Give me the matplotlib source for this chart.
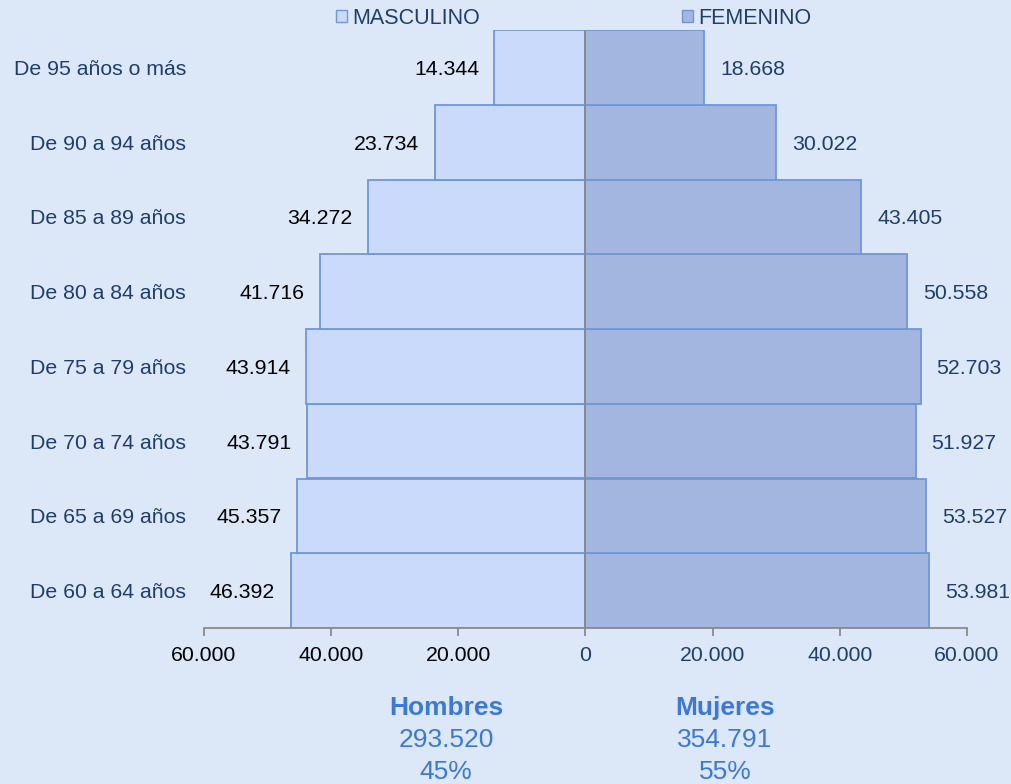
import matplotlib
matplotlib.use("Agg")
import matplotlib.pyplot as plt
from matplotlib.ticker import FuncFormatter, FixedLocator
from matplotlib.patches import Patch

plt.rcParams['font.family'] = ['Liberation Sans', 'DejaVu Sans']

categories = ["De 60 a 64 años", "De 65 a 69 años", "De 70 a 74 años", "De 75 a 79 años",
              "De 80 a 84 años", "De 85 a 89 años", "De 90 a 94 años", "De 95 años o más"]
masculino = [46392, 45357, 43791, 43914, 41716, 34272, 23734, 14344]
femenino = [53981, 53527, 51927, 52703, 50558, 43405, 30022, 18668]
ticks = [-60000, -40000, -20000, 0, 20000, 40000, 60000]
totals = {"Hombres": ("293.520", "45%"), "Mujeres": ("354.791", "55%")}

bg = "#DCE8F8"
male_c = "#C9DAFA"
fem_c = "#A3B6E0"
edge_c = "#7096DA"
dark_blue = "#1F3F6A"
accent = "#3C78D8"

def fmt(v):
    return f"{int(round(abs(v))):,}".replace(",", ".")

fig = plt.figure(figsize=(10.12, 7.84), dpi=100, facecolor=bg)
ax = fig.add_axes([204/1012, 1-628/784, (967-204)/1012, (628-30)/784])
ax.set_facecolor(bg)

y = list(range(len(categories)))
ax.barh(y, [-m for m in masculino], height=1.0, color=male_c, edgecolor=edge_c, linewidth=1.3)
ax.barh(y, femenino, height=1.0, color=fem_c, edgecolor=edge_c, linewidth=1.3)
ax.axvline(0, color="#8A8A8A", linewidth=1.3)

ax.set_xlim(-60000, 60000)
ax.set_ylim(-0.5, len(categories) - 0.5)

fs = 15.3
for yi, m, f in zip(y, masculino, femenino):
    ax.annotate(fmt(m), xy=(-m, yi), xytext=(-11, -1.5), textcoords="offset points",
                ha="right", va="center", fontsize=fs, color="black")
    ax.annotate(fmt(f), xy=(f, yi), xytext=(11.5, -1.5), textcoords="offset points",
                ha="left", va="center", fontsize=fs, color=dark_blue)

ax.xaxis.set_major_locator(FixedLocator(ticks))
ax.xaxis.set_major_formatter(FuncFormatter(lambda v, p: fmt(v)))
ax.tick_params(axis="x", length=6, width=1.3, color="#8A8A8A", labelsize=fs, pad=7)
for lab, t in zip(ax.get_xticklabels(), ticks):
    lab.set_color("black" if t < 0 else dark_blue)

ax.set_yticks(y)
ax.set_yticklabels(categories, fontsize=fs, color=dark_blue)
ax.tick_params(axis="y", length=0, pad=13)

for s in ["top", "right", "left"]:
    ax.spines[s].set_visible(False)
ax.spines["bottom"].set_color("#8A8A8A")
ax.spines["bottom"].set_linewidth(1.3)

handles = [Patch(facecolor=male_c, edgecolor=edge_c, label="MASCULINO"),
           Patch(facecolor=fem_c, edgecolor=edge_c, label="FEMENINO")]
leg = fig.legend(handles=handles, loc="center", bbox_to_anchor=(574/1012, 1-18/784), ncol=2,
                 frameon=False, fontsize=15.5, handlelength=0.5, handleheight=0.5,
                 handletextpad=0.25, columnspacing=9.4, borderpad=0, borderaxespad=0)
for t in leg.get_texts():
    t.set_color(dark_blue)

for name, xc in [("Hombres", 446), ("Mujeres", 725)]:
    num, pct = totals[name]
    fig.text(xc/1012, 1-708/784, name, ha="center", va="center", fontsize=19,
             fontweight="bold", color=accent)
    fig.text(xc/1012, 1-740/784, num, ha="center", va="center", fontsize=19, color=accent)
    fig.text(xc/1012, 1-772/784, pct, ha="center", va="center", fontsize=19, color=accent)

fig.savefig("out.png", dpi=100, facecolor=bg)
